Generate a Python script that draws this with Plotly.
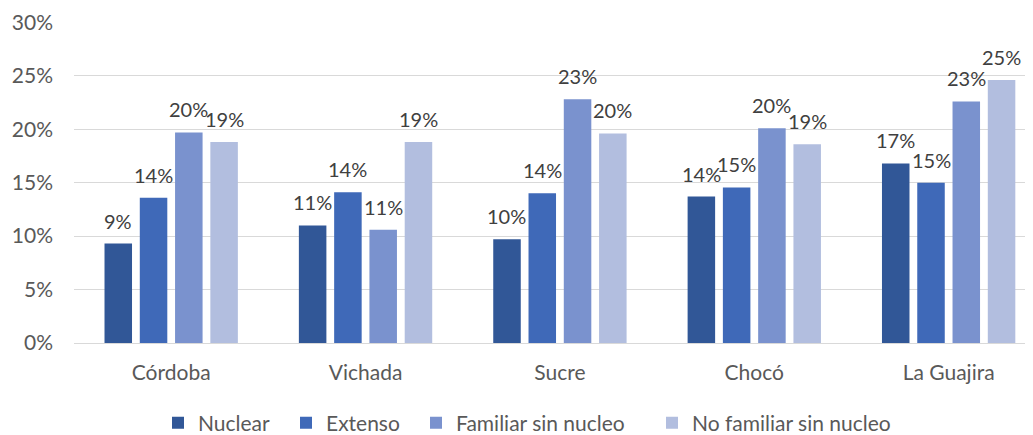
import plotly.graph_objects as go

categories = ["Córdoba", "Vichada", "Sucre", "Chocó", "La Guajira"]
series_names = ["Nuclear", "Extenso", "Familiar sin nucleo", "No familiar sin nucleo"]
nuclear = [0.093, 0.110, 0.097, 0.137, 0.168]
extenso = [0.136, 0.141, 0.140, 0.1455, 0.150]
familiar_sin_nucleo = [0.197, 0.106, 0.228, 0.201, 0.226]
no_familiar_sin_nucleo = [0.188, 0.188, 0.196, 0.186, 0.246]
y_ticks = [0, 0.05, 0.10, 0.15, 0.20, 0.25, 0.30]
y_tick_labels = ["0%", "5%", "10%", "15%", "20%", "25%", "30%"]

colors = ["#315797", "#3F69B8", "#7A92CE", "#B2BEDF"]
values = [nuclear, extenso, familiar_sin_nucleo, no_familiar_sin_nucleo]

FONT = "Lato, 'Open Sans', sans-serif"
FIG_W, FIG_H = 1025, 427  # page body has an 8px margin inside the 1033x435 window
M_L, M_R, M_T, M_B = 66, 0, 14, 92
X_RANGE = [-0.5, 4.434]
BARGAP, BARGROUPGAP = 0.274, 0.22
legend_ids = ["legend", "legend2", "legend3", "legend4"]
legend_left_px = [150, 278, 408, 644]

fig = go.Figure()
for name, vals, col, lid in zip(series_names, values, colors, legend_ids):
    fig.add_trace(go.Bar(
        name=name, x=categories, y=vals, marker_color=col,
        marker_line_width=0, legend=lid,
    ))

# data labels as annotations, shifted to the centre of each grouped bar
px_per_cat = (FIG_W - M_L - M_R) / (X_RANGE[1] - X_RANGE[0])
slot_px = px_per_cat * (1 - BARGAP) / len(series_names)
for i, vals in enumerate(values):
    off = (i - (len(series_names) - 1) / 2) * slot_px
    for cat, v in zip(categories, vals):
        fig.add_annotation(x=cat, y=v, text=f"{round(v*100)}%", showarrow=False,
                           xanchor="center", yanchor="bottom", xshift=off, yshift=9,
                           font=dict(size=20, color="#404040", family=FONT))

legends = {}
for lid, left in zip(legend_ids, legend_left_px):
    legends[lid] = dict(orientation="h", xref="container", yref="container",
                        x=left / FIG_W, xanchor="left", y=0.028, yanchor="middle",
                        font=dict(size=21, color="#595959"), itemwidth=30,
                        bgcolor="rgba(0,0,0,0)")

fig.update_layout(
    width=FIG_W, height=FIG_H,
    margin=dict(l=M_L, r=M_R, t=M_T, b=M_B, autoexpand=False),
    paper_bgcolor="white", plot_bgcolor="white",
    barmode="group", bargap=BARGAP, bargroupgap=BARGROUPGAP,
    font=dict(family=FONT, color="#595959", size=21),
    showlegend=True,
    xaxis=dict(range=X_RANGE, showgrid=False, showline=False, ticks="",
               automargin=False, ticklabelstandoff=15,
               tickfont=dict(size=21, color="#595959")),
    yaxis=dict(range=[0, 0.3003], tickvals=y_ticks, ticktext=y_tick_labels,
               showgrid=True, gridcolor="#D9D9D9", gridwidth=1.3,
               zeroline=True, zerolinecolor="#D9D9D9", zerolinewidth=1.3,
               showline=False, ticks="", ticklabelstandoff=20, automargin=False,
               tickfont=dict(size=21, color="#595959")),
    **legends,
)

fig.write_html("out.html")
